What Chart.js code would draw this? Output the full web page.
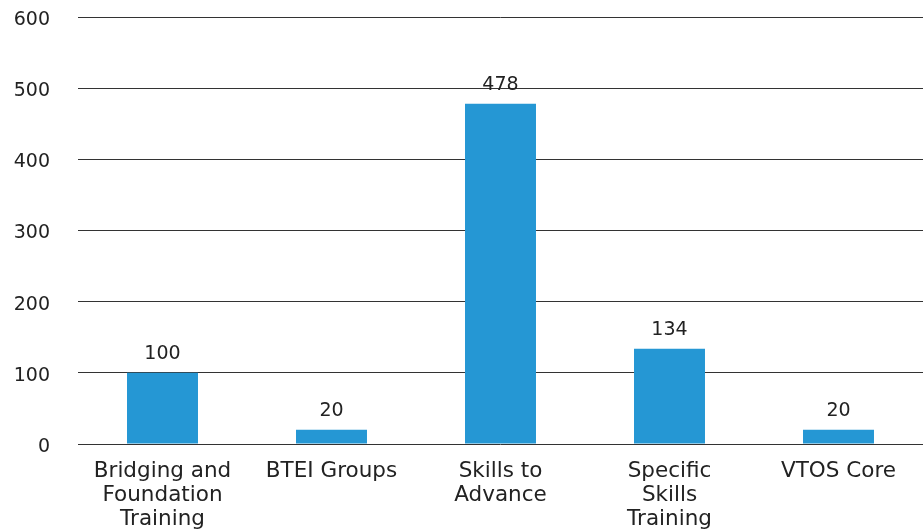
<!DOCTYPE html>
<html>
<head>
<meta charset="utf-8">
<script src="https://cdn.jsdelivr.net/npm/chart.js@4/dist/chart.umd.min.js"></script>
<style>
  html, body { margin: 0; padding: 0; background: #fff; }
  #wrap { width: 923px; height: 531px; }
</style>
</head>
<body>
<div id="wrap"><canvas id="barChart"></canvas></div>
<script>
// Datos del gráfico
const categories = [
  ['Bridging and', 'Foundation', 'Training'],
  'BTEI Groups',
  ['Skills to', 'Advance'],
  ['Specific', 'Skills', 'Training'],
  'VTOS Core'
];
const participants = [100, 20, 478, 134, 20];
const yTicks = [0, 100, 200, 300, 400, 500, 600];

const FONT = '"DejaVu Sans", sans-serif';

// Etiquetas de valor sobre cada barra
const valueLabels = {
  id: 'valueLabels',
  afterDatasetsDraw(chart) {
    const ctx = chart.ctx;
    const meta = chart.getDatasetMeta(0);
    ctx.save();
    ctx.font = '19px ' + FONT;
    ctx.fillStyle = '#222';
    ctx.textAlign = 'center';
    ctx.textBaseline = 'bottom';
    meta.data.forEach((bar, i) => {
      ctx.fillText(String(participants[i]), bar.x, bar.y - 9);
    });
    ctx.restore();
  }
};

document.addEventListener('DOMContentLoaded', function () {
  const ctx = document.getElementById('barChart').getContext('2d');

  new Chart(ctx, {
    type: 'bar',
    data: {
      labels: categories,
      datasets: [{
        data: participants,
        backgroundColor: '#2597d4',
        barPercentage: 0.42,
        categoryPercentage: 1
      }]
    },
    options: {
      responsive: true,
      maintainAspectRatio: false,
      animation: false,
      layout: { padding: { top: 17, right: 0, left: 0, bottom: 0 } },
      plugins: {
        legend: { display: false },
        tooltip: { enabled: false }
      },
      scales: {
        x: {
          grid: { display: false },
          border: { display: false },
          afterFit(axis) {
            axis.height = 87;
          },
          ticks: {
            color: '#222',
            font: { family: FONT, size: 21.5, lineHeight: 1.1 },
            maxRotation: 0,
            autoSkip: false,
            padding: 8
          }
        },
        y: {
          min: 0,
          max: 600,
          afterBuildTicks(axis) {
            axis.ticks = yTicks.map(v => ({ value: v }));
          },
          // ancho fijo del eje y sin margen extra arriba
          afterFit(axis) {
            axis.paddingTop = 0;
            axis.width = 78;
          },
          grid: { color: '#333', lineWidth: 1, drawTicks: false },
          border: { display: false },
          ticks: {
            color: '#222',
            font: { family: FONT, size: 19 },
            padding: 28,
            labelOffset: 3
          }
        }
      }
    },
    plugins: [valueLabels]
  });
});
</script>
</body>
</html>
